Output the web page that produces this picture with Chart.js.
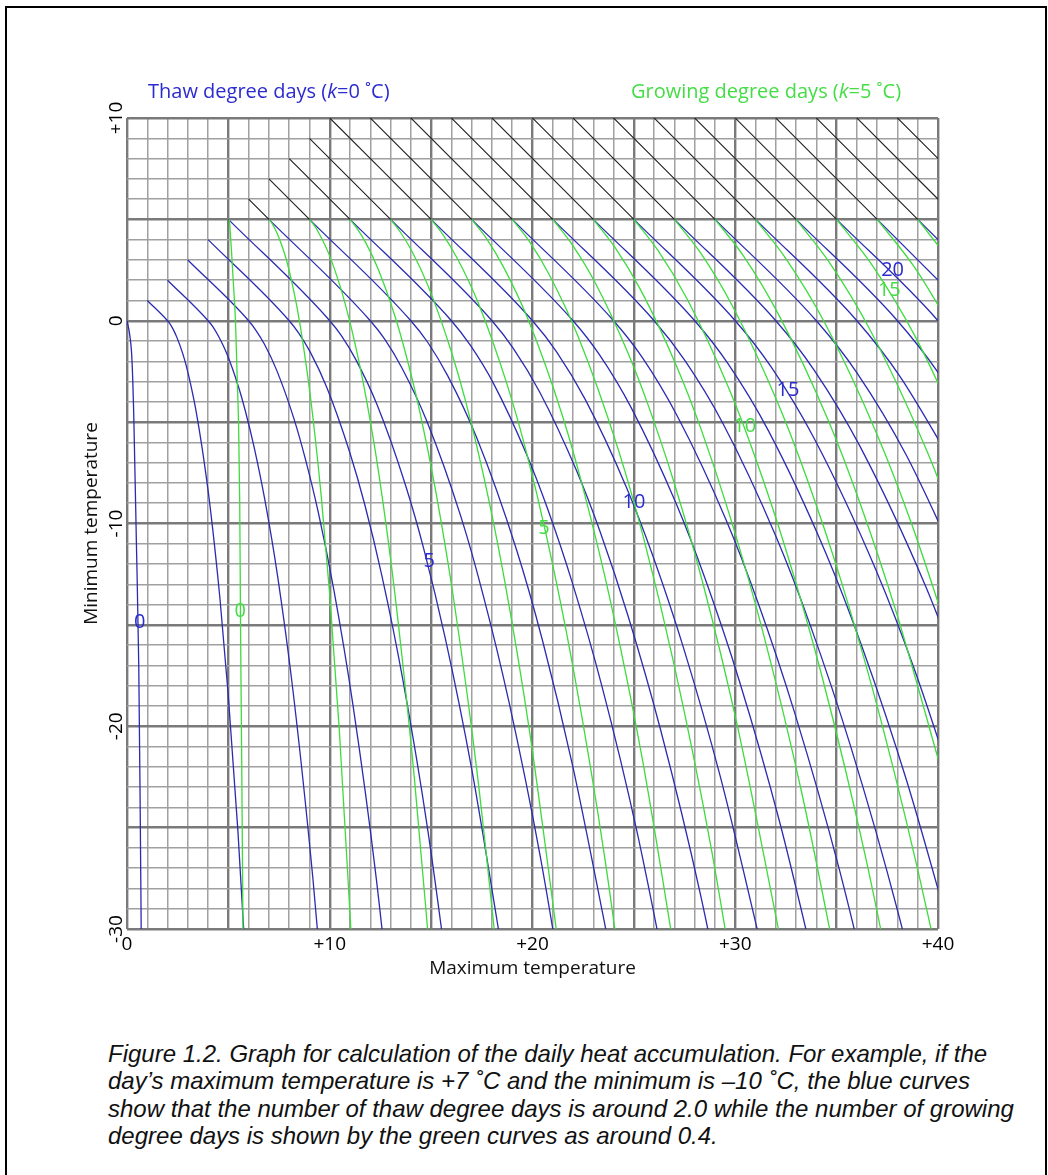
<!DOCTYPE html>
<html>
<head>
<meta charset="utf-8">
<title>Thaw and growing degree days</title>
<script src="https://cdn.jsdelivr.net/npm/chart.js@4.4.1/dist/chart.umd.min.js"></script>
<style>
  html, body { margin: 0; padding: 0; background: #fff; }
  body { width: 1048px; height: 1175px; position: relative; overflow: hidden; }
  #frame { position: absolute; left: 5px; top: 6px; width: 1042px; height: 1200px; border: 2px solid #000; box-sizing: border-box; }
  #wrap { position: absolute; left: 0; top: 0; width: 1048px; height: 1000px; }
  #caption { position: absolute; left: 108px; top: 1040px; font: italic 24px "Liberation Sans", Arial, sans-serif; line-height: 27.4px; color: #111; white-space: nowrap; }
</style>
</head>
<body>
<div id="frame"></div>
<div id="wrap"><canvas id="chart" width="1048" height="1000" style="width:1048px;height:1000px"></canvas></div>
<div id="caption">Figure 1.2. Graph for calculation of the daily heat accumulation. For example, if the<br>day’s maximum temperature is +7 ˚C and the minimum is –10 ˚C, the blue curves<br>show that the number of thaw degree days is around 2.0 while the number of growing<br>degree days is shown by the green curves as around 0.4.</div>
<script>
// axes
const maxTempTicks = [0, 10, 20, 30, 40];
const maxTempTickLabels = ['0', '+10', '+20', '+30', '+40'];
const minTempTicks = [-30, -20, -10, 0, 10];
const minTempTickLabels = ['-30', '-20', '-10', '0', '+10'];

// thaw degree day curves (k = 0), one per level, [max, min] points
const thawLevels = [0, 1, 2, 3, 4, 5, 6, 7, 8, 9, 10, 11, 12, 13, 14, 15, 16, 17, 18, 19, 20, 21, 22];
const thawCurves = [
  [[0,0],[0.12,-0.6],[0.22,-1.5],[0.28,-2.8],[0.33,-4.5],[0.46,-10.8],[0.58,-17],[0.65,-24],[0.7,-30]],
  [[1,1],[2,0],[2.12,-0.15],[2.26,-0.39],[2.46,-0.82],[2.75,-1.62],[2.93,-2.25],[3.14,-3.14],[3.4,-4.42],[3.71,-6.31],[4.1,-9.18],[4.59,-13.76],[4.99,-18.41],[5.47,-25.16],[6.06,-35.34]],
  [[2,2],[4,0],[4.24,-0.3],[4.52,-0.78],[4.93,-1.64],[5.49,-3.23],[5.85,-4.5],[6.28,-6.28],[6.8,-8.84],[7.43,-12.61],[8.2,-18.36],[9.17,-27.52],[9.98,-36.82]],
  [[3,3],[6,0],[6.35,-0.46],[6.78,-1.16],[7.39,-2.46],[8.24,-4.85],[8.78,-6.75],[9.43,-9.43],[10.2,-13.26],[11.14,-18.92],[12.3,-27.55],[13.76,-41.29]],
  [[4,4],[8,0],[8.47,-0.61],[9.04,-1.55],[9.85,-3.28],[10.98,-6.47],[11.71,-9],[12.57,-12.57],[13.6,-17.68],[14.85,-25.22],[16.4,-36.73]],
  [[5,5],[10,0],[10.59,-0.76],[11.3,-1.94],[12.32,-4.11],[13.73,-8.09],[14.64,-11.26],[15.71,-15.71],[17,-22.1],[18.57,-31.53]],
  [[7,5],[12,0],[12.71,-0.91],[13.56,-2.33],[14.78,-4.93],[16.48,-9.7],[17.56,-13.51],[18.85,-18.85],[20.4,-26.52],[22.28,-37.84]],
  [[9,5],[14,0],[14.83,-1.06],[15.82,-2.72],[17.24,-5.75],[19.22,-11.32],[20.49,-15.76],[21.99,-21.99],[23.8,-30.94]],
  [[11,5],[16,0],[16.94,-1.22],[18.08,-3.1],[19.7,-6.57],[20.74,-9.26],[21.97,-12.94],[23.42,-18.01],[25.14,-25.14],[27.2,-35.36]],
  [[13,5],[18,0],[19.06,-1.37],[20.34,-3.49],[22.17,-7.39],[23.34,-10.42],[24.71,-14.55],[26.34,-20.26],[28.28,-28.28],[30.6,-39.78]],
  [[15,5],[20,0],[21.18,-1.52],[22.6,-3.88],[24.63,-8.21],[25.93,-11.58],[27.46,-16.17],[29.27,-22.51],[31.42,-31.42]],
  [[17,5],[22,0],[23.3,-1.67],[24.86,-4.27],[27.09,-9.03],[28.52,-12.74],[30.21,-17.79],[32.2,-24.76],[34.56,-34.56]],
  [[19,5],[24,0],[25.42,-1.82],[27.12,-4.66],[29.56,-9.85],[31.12,-13.9],[32.95,-19.4],[35.12,-27.01],[37.7,-37.7]],
  [[21,5],[26,0],[27.53,-1.98],[29.38,-5.04],[32.02,-10.67],[33.71,-15.05],[35.7,-21.02],[38.05,-29.26],[40.85,-40.85]],
  [[23,5],[28,0],[29.65,-2.13],[31.64,-5.43],[34.48,-11.49],[36.3,-16.21],[38.44,-22.64],[40.98,-31.51]],
  [[25,5],[30,0],[31.77,-2.28],[33.9,-5.82],[36.95,-12.32],[38.9,-17.37],[41.19,-24.26]],
  [[27,5],[32,0],[33.89,-2.43],[36.16,-6.21],[39.41,-13.14],[41.49,-18.53]],
  [[29,5],[34,0],[36.01,-2.58],[38.42,-6.6],[41.87,-13.96]],
  [[31,5],[36,0],[38.12,-2.74],[40.68,-6.98]],
  [[33,5],[38,0],[40.24,-2.89],[42.94,-7.37]],
  [[35,5],[40,0],[42.36,-3.04]],
  [[37,5],[42,0]],
  [[39,5],[44,0]]
];

// growing degree day curves (k = 5)
const growLevels = [0, 1, 2, 3, 4, 5, 6, 7, 8, 9, 10, 11, 12, 13, 14, 15, 16, 17];
const growCurves = [
  [[5.05,5],[5.15,3.5],[5.25,1.8],[5.35,0],[5.44,-3],[5.5,-5],[5.56,-9],[5.6,-15],[5.66,-22],[5.72,-30]],
  [[7,5],[7.12,4.85],[7.26,4.61],[7.46,4.18],[7.75,3.38],[7.93,2.75],[8.14,1.86],[8.4,0.58],[8.71,-1.31],[9.1,-4.18],[9.59,-8.76],[9.99,-13.41],[10.47,-20.16],[11.06,-30.34]],
  [[9,5],[9.24,4.7],[9.52,4.22],[9.93,3.36],[10.49,1.77],[10.85,0.5],[11.28,-1.28],[11.8,-3.84],[12.43,-7.61],[13.2,-13.36],[14.17,-22.52],[14.98,-31.82]],
  [[11,5],[11.35,4.54],[11.78,3.84],[12.39,2.54],[13.24,0.15],[13.78,-1.75],[14.43,-4.43],[15.2,-8.26],[16.14,-13.92],[17.3,-22.55],[18.76,-36.29]],
  [[13,5],[13.47,4.39],[14.04,3.45],[14.85,1.72],[15.98,-1.47],[16.71,-4],[17.57,-7.57],[18.6,-12.68],[19.85,-20.22],[21.4,-31.73]],
  [[15,5],[15.59,4.24],[16.3,3.06],[17.32,0.89],[18.73,-3.09],[19.64,-6.26],[20.71,-10.71],[22,-17.1],[23.57,-26.53],[25.5,-40.91]],
  [[17,5],[17.71,4.09],[18.56,2.67],[19.78,0.07],[21.48,-4.7],[22.56,-8.51],[23.85,-13.85],[25.4,-21.52],[27.28,-32.84]],
  [[19,5],[19.83,3.94],[20.82,2.28],[22.24,-0.75],[24.22,-6.32],[25.49,-10.76],[26.99,-16.99],[28.8,-25.94],[30.99,-39.14]],
  [[21,5],[21.94,3.78],[23.08,1.9],[24.7,-1.57],[25.74,-4.26],[26.97,-7.94],[28.42,-13.01],[30.14,-20.14],[32.2,-30.36]],
  [[23,5],[24.06,3.63],[25.34,1.51],[27.17,-2.39],[28.34,-5.42],[29.71,-9.55],[31.34,-15.26],[33.28,-23.28],[35.6,-34.78]],
  [[25,5],[26.18,3.48],[27.6,1.12],[29.63,-3.21],[30.93,-6.58],[32.46,-11.17],[34.27,-17.51],[36.42,-26.42],[39,-39.2]],
  [[27,5],[28.3,3.33],[29.86,0.73],[32.09,-4.03],[33.52,-7.74],[35.21,-12.79],[37.2,-19.76],[39.56,-29.56],[42.4,-43.62]],
  [[29,5],[30.42,3.18],[32.12,0.34],[34.56,-4.85],[36.12,-8.9],[37.95,-14.4],[40.12,-22.01]],
  [[31,5],[32.53,3.02],[34.38,-0.04],[37.02,-5.67],[38.71,-10.05],[40.7,-16.02]],
  [[33,5],[34.65,2.87],[36.64,-0.43],[39.48,-6.49],[41.3,-11.21]],
  [[35,5],[36.77,2.72],[38.9,-0.82],[41.95,-7.32]],
  [[37,5],[38.89,2.57],[41.16,-1.21]],
  [[39,5],[41.01,2.42]]
];

// where both counts are linear (min above 5) the two families coincide
const overlapLines = [
  [[6,6],[7,5]], [[7,7],[9,5]], [[8,8],[11,5]], [[9,9],[13,5]], [[10,10],[15,5]],
  [[11,11],[17,5]], [[12,12],[19,5]], [[13,13],[21,5]], [[14,14],[23,5]], [[15,15],[25,5]],
  [[16,16],[27,5]], [[17,17],[29,5]], [[18,18],[31,5]], [[19,19],[33,5]], [[20,20],[35,5]],
  [[21,21],[37,5]], [[22,22],[39,5]], [[23,23],[41,5]], [[24,24],[43,5]]
];

// contour labels
const thawLabelText = ['0', '5', '10', '15', '20'];
const thawLabelX = [0.63, 14.9, 25.0, 32.6, 37.76];
const thawLabelY = [-14.86, -11.88, -8.93, -3.45, 2.47];
const growLabelText = ['0', '5', '10', '15'];
const growLabelX = [5.59, 20.56, 30.47, 37.6];
const growLabelY = [-14.35, -10.24, -5.23, 1.48];

const BLUE = '#2b2bb2';
const GREEN = '#3ddc3d';
const DARK = '#1e1e1e';
const BLUE_TEXT = '#2b2bd0';
const GREEN_TEXT = '#44dd44';
const FONT = '"Open Sans", "DejaVu Sans", sans-serif';

function lineSet(label, pts, color, width) {
  return {
    label: label,
    data: pts.map(p => ({ x: p[0], y: p[1] })),
    showLine: true,
    borderColor: color,
    borderWidth: width,
    pointRadius: 0,
    pointHoverRadius: 0,
    fill: false,
    cubicInterpolationMode: 'monotone',
    clip: 0
  };
}

const datasets = [];
overlapLines.forEach((seg, i) => datasets.push(lineSet('overlap ' + i, seg, DARK, 1.1)));
growCurves.forEach((c, i) => datasets.push(lineSet('GDD ' + growLevels[i], c, GREEN, 1.3)));
thawCurves.forEach((c, i) => datasets.push(lineSet('TDD ' + thawLevels[i], c, BLUE, 1.3)));

function gridColor(c) {
  return c.tick && c.tick.value % 5 === 0 ? 'rgb(122,122,122)' : 'rgb(160,160,160)';
}
function gridWidth(c) {
  return c.tick && c.tick.value % 5 === 0 ? 2.4 : 1.5;
}

// text drawn with mixed upright/italic parts
function drawRich(ctx, parts, x, y, color, size) {
  ctx.fillStyle = color;
  ctx.textAlign = 'left';
  ctx.textBaseline = 'alphabetic';
  let cx = x;
  parts.forEach(p => {
    ctx.font = (p[1] ? 'italic ' : '') + size + 'px ' + FONT;
    ctx.fillText(p[0], cx, y);
    cx += ctx.measureText(p[0]).width;
  });
}

const textPlugin = {
  id: 'nomogramText',
  afterDraw(chart) {
    const ctx = chart.ctx;
    const xs = chart.scales.x;
    const ys = chart.scales.y;
    ctx.save();

    // tick labels
    ctx.fillStyle = '#000';
    ctx.font = '19px ' + FONT;
    ctx.textAlign = 'center';
    ctx.textBaseline = 'alphabetic';
    maxTempTicks.forEach((v, i) => ctx.fillText(maxTempTickLabels[i], xs.getPixelForValue(v), 950));
    minTempTicks.forEach((v, i) => {
      ctx.save();
      ctx.translate(122, ys.getPixelForValue(v));
      ctx.rotate(-Math.PI / 2);
      ctx.fillText(minTempTickLabels[i], 0, 0);
      ctx.restore();
    });

    // axis titles
    ctx.fillStyle = '#111';
    ctx.font = '19px ' + FONT;
    ctx.fillText('Maximum temperature', (xs.left + xs.right) / 2, 974);
    ctx.save();
    ctx.translate(97, (ys.top + ys.bottom) / 2);
    ctx.rotate(-Math.PI / 2);
    ctx.fillText('Minimum temperature', 0, 0);
    ctx.restore();

    // family titles
    drawRich(ctx, [['Thaw degree days (', false], ['k', true], ['=0 ˚C)', false]], 148, 98, BLUE_TEXT, 20);
    drawRich(ctx, [['Growing degree days (', false], ['k', true], ['=5 ˚C)', false]], 631, 98, GREEN_TEXT, 20);

    // contour labels
    ctx.font = '20px ' + FONT;
    ctx.textAlign = 'center';
    ctx.textBaseline = 'middle';
    ctx.fillStyle = BLUE_TEXT;
    thawLabelText.forEach((t, i) => ctx.fillText(t, xs.getPixelForValue(thawLabelX[i]), ys.getPixelForValue(thawLabelY[i])));
    ctx.fillStyle = GREEN_TEXT;
    growLabelText.forEach((t, i) => ctx.fillText(t, xs.getPixelForValue(growLabelX[i]), ys.getPixelForValue(growLabelY[i])));

    ctx.restore();
  }
};

new Chart(document.getElementById('chart'), {
  type: 'scatter',
  data: { datasets: datasets },
  options: {
    responsive: false,
    animation: false,
    events: [],
    layout: { padding: { left: 127, top: 118, right: 110, bottom: 71 } },
    plugins: { legend: { display: false }, tooltip: { enabled: false } },
    scales: {
      x: {
        type: 'linear', min: 0, max: 40,
        ticks: { stepSize: 1, display: false, autoSkip: false },
        grid: { drawTicks: false, color: gridColor, lineWidth: gridWidth },
        border: { display: false }
      },
      y: {
        type: 'linear', min: -30, max: 10,
        ticks: { stepSize: 1, display: false, autoSkip: false },
        grid: { drawTicks: false, color: gridColor, lineWidth: gridWidth },
        border: { display: false }
      }
    }
  },
  plugins: [textPlugin]
});
</script>
</body>
</html>
